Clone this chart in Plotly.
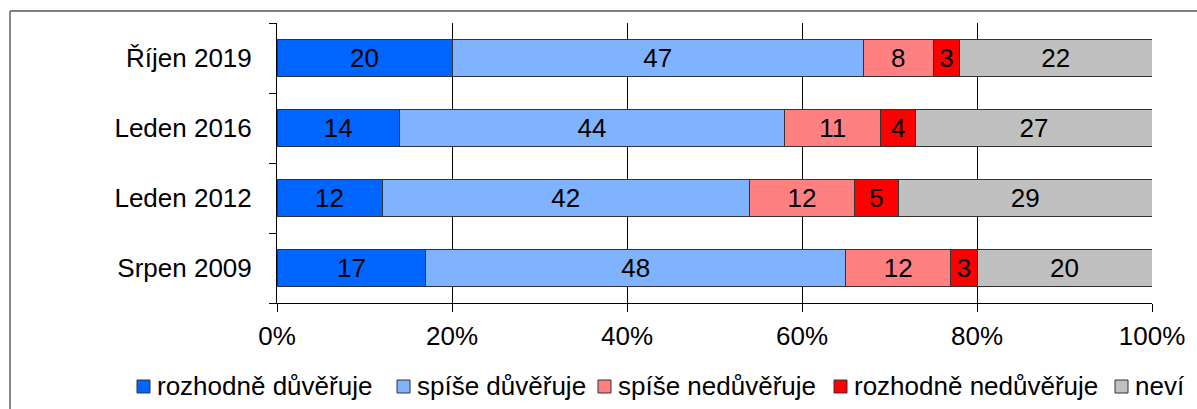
import plotly.graph_objects as go

categories = ["Říjen 2019", "Leden 2016", "Leden 2012", "Srpen 2009"]
series_names = ["rozhodně důvěřuje", "spíše důvěřuje", "spíše nedůvěřuje", "rozhodně nedůvěřuje", "neví"]
rozhodne_duveruje = [20, 14, 12, 17]
spise_duveruje = [47, 44, 42, 48]
spise_neduveruje = [8, 11, 12, 12]
rozhodne_neduveruje = [3, 4, 5, 3]
nevi = [22, 27, 29, 20]
x_ticks = [0, 20, 40, 60, 80, 100]
x_tick_labels = ["0%", "20%", "40%", "60%", "80%", "100%"]

colors = ["#0066FF", "#80B3FF", "#FF8080", "#FF0000", "#C0C0C0"]
series_values = [rozhodne_duveruje, spise_duveruje, spise_neduveruje, rozhodne_neduveruje, nevi]

FONT = "Liberation Sans, Arial, sans-serif"
W, H = 1197, 409
ML, MR, MT, MB = 277, 45, 23, 106
PW, PH = W - ML - MR, H - MT - MB


def px_x(px):
    return (px - ML) / PW


def px_y(py):
    return (H - MB - py) / PH


fig = go.Figure()
for name, vals, col in zip(series_names, series_values, colors):
    fig.add_trace(go.Bar(
        name=name,
        y=categories,
        x=vals,
        orientation="h",
        marker=dict(color=col, line=dict(color="#333333", width=1)),
        text=[str(v) for v in vals],
        textposition="inside",
        insidetextanchor="middle",
        textangle=0,
        constraintext="none",
        insidetextfont=dict(family=FONT, size=26, color="black"),
        hoverinfo="x+y+name",
        showlegend=False,
    ))

# custom legend (layout positions in pixels)
legend_marker_px = [137, 397, 598, 834, 1115]
shapes = [
    dict(type="line", xref="paper", yref="paper", x0=px_x(10), x1=px_x(1200), y0=px_y(11), y1=px_y(11),
         line=dict(color="#555555", width=1.5)),
    dict(type="line", xref="paper", yref="paper", x0=px_x(10), x1=px_x(10), y0=px_y(11), y1=px_y(420),
         line=dict(color="#888888", width=2)),
]
annotations = []
for name, col, mx in zip(series_names, colors, legend_marker_px):
    shapes.append(dict(type="rect", xref="paper", yref="paper",
                       x0=px_x(mx), x1=px_x(mx + 13), y0=px_y(380), y1=px_y(393),
                       fillcolor=col, line=dict(color="#333333", width=1)))
    annotations.append(dict(xref="paper", yref="paper", x=px_x(mx + 19), y=px_y(386),
                            xanchor="left", yanchor="middle", showarrow=False, text=name,
                            font=dict(family=FONT, size=26, color="black"), borderpad=0))

fig.update_layout(
    barmode="stack",
    bargap=0.48,
    width=W,
    height=H,
    margin=dict(l=ML, r=MR, t=MT, b=MB, autoexpand=False),
    paper_bgcolor="white",
    plot_bgcolor="white",
    font=dict(family=FONT, size=26, color="black"),
    showlegend=False,
    xaxis=dict(
        range=[0, 100],
        tickvals=x_ticks,
        ticktext=x_tick_labels,
        showgrid=True,
        gridcolor="black",
        gridwidth=1,
        zeroline=False,
        showline=True,
        linecolor="black",
        linewidth=1,
        ticks="outside",
        ticklen=8,
        tickcolor="black",
        ticklabelstandoff=2,
        automargin=False,
        tickfont=dict(family=FONT, size=26, color="black"),
    ),
    yaxis=dict(
        categoryorder="array",
        categoryarray=categories[::-1],
        showgrid=False,
        zeroline=False,
        showline=True,
        linecolor="black",
        linewidth=1,
        ticks="outside",
        tickson="boundaries",
        ticklen=7,
        tickcolor="black",
        ticklabelstandoff=19,
        automargin=False,
        tickfont=dict(family=FONT, size=26, color="black"),
    ),
    shapes=shapes,
    annotations=annotations,
)

fig.write_html("out.html", config={"displayModeBar": False},
               post_script="document.body.style.margin='0px';document.body.style.overflow='hidden';")
